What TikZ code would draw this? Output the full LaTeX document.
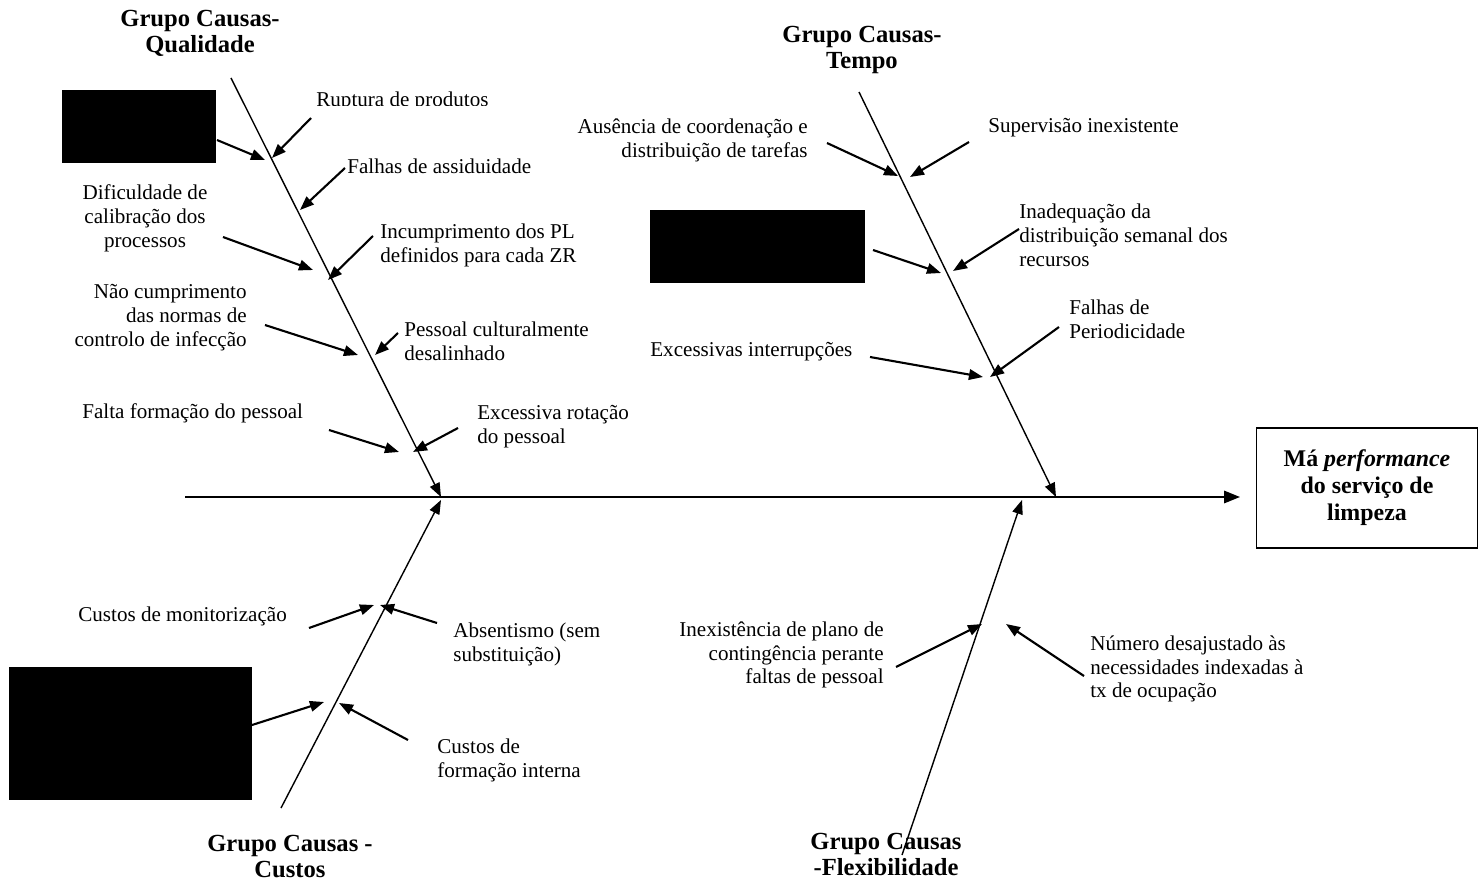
\documentclass[tikz,border=0pt]{standalone}
\usepackage{fontspec}
\setmainfont{Liberation Serif}
\usetikzlibrary{arrows.meta}

\begin{document}
\begin{tikzpicture}[x=0.02cm, y=-0.02cm,
        bone/.style={line width=0.8pt, -{Triangle[length=8pt,width=6pt]}},
        cause/.style={line width=1.2pt, -{Triangle[length=8pt,width=6pt]}},
        lbl/.style={inner sep=0pt, font=\fontsize{12}{13.6}\selectfont},
        grp/.style={inner sep=0pt, align=center, font=\fontsize{14}{14.8}\selectfont\bfseries},
        blk/.style={fill=black, draw=none, inner sep=0pt, anchor=north west}
                            ]
        \useasboundingbox (0,0) rectangle (1480,885);
        % effect and spine
        \node[draw, line width=0.7pt, minimum width=4.42cm, minimum height=2.4cm, align=center,
              font=\fontsize{13.6}{15.3}\selectfont\bfseries] (eff) at (1367,488)
              {M\'a \textit{performance}\\do servi\c{c}o de\\limpeza};
        \coordinate (tail) at (185,497);
        \coordinate (head) at (1240,497);
        \draw[line width=1.1pt, -{Triangle[length=9pt,width=7pt]}] (tail) -- (head);
        % bones
        \coordinate (qa) at (231,78);   \coordinate (qb) at (441,497);
        \coordinate (ta) at (859,92);   \coordinate (tb) at (1056,497);
        \coordinate (ca) at (281,808);  \coordinate (cb) at (441,500);
        \coordinate (fa) at (902,855);  \coordinate (fb) at (1022,500);
        \draw[bone] (qa) -- (qb);
        \draw[bone] (ta) -- (tb);
        \draw[bone] (ca) -- (cb);
        \draw[bone] (fa) -- (fb);
        % group titles
        \node[grp] (tq) at (200,33) {Grupo Causas-\\Qualidade};
        \node[grp] (tt) at (862,50) {Grupo Causas-\\Tempo};
        \node[grp] (tc) at (290,856) {Grupo Causas -\\Custos};
        \node[grp] (tf) at (886,854) {Grupo Causas\\-Flexibilidade};
        % hidden boxes
        \node[blk, minimum width=3.08cm, minimum height=1.46cm] (hid1) at (62,90) {};
        \node[blk, minimum width=4.3cm, minimum height=1.46cm] (hid2) at (650,210) {};
        \node[blk, minimum width=4.86cm, minimum height=2.66cm] (hid3) at (9,667) {};
        % causes - qualidade
        \node[lbl, anchor=west] (rup) at (316,101) {Ruptura de produtos};
        \fill[white] (312,106.5) rectangle (500,118);
        \node[lbl, anchor=west] (fas) at (347,166) {Falhas de assiduidade};
        \node[lbl, anchor=center, align=center] (dif) at (145,218) {Dificuldade de\\calibra\c{c}\~ao dos\\processos};
        \node[lbl, anchor=west, align=left] (inc) at (380,245) {Incumprimento dos PL\\definidos para cada ZR};
        \node[lbl, anchor=east, align=right] (nao) at (247,318) {N\~ao cumprimento\\das normas de\\controlo de infec\c{c}\~ao};
        \node[lbl, anchor=west, align=left] (pes) at (404,341) {Pessoal culturalmente\\desalinhado};
        \node[lbl, anchor=west] (fal) at (82,413) {Falta forma\c{c}\~ao do pessoal};
        \node[lbl, anchor=west, align=left] (exr) at (477,427) {Excessiva rota\c{c}\~ao\\do pessoal};
        % causes - tempo
        \node[lbl, anchor=east, align=right] (aus) at (808,140) {Aus\^encia de coordena\c{c}\~ao e\\distribui\c{c}\~ao de tarefas};
        \node[lbl, anchor=west] (sup) at (988,128) {Supervis\~ao inexistente};
        \node[lbl, anchor=west, align=left] (ina) at (1019,235) {Inadequa\c{c}\~ao da\\distribui\c{c}\~ao semanal dos\\recursos};
        \node[lbl, anchor=west] (exi) at (650,352) {Excessivas interrup\c{c}\~oes};
        \node[lbl, anchor=west, align=left] (fap) at (1069,319) {Falhas de\\Periodicidade};
        % causes - custos
        \node[lbl, anchor=west] (cmo) at (78,616) {Custos de monitoriza\c{c}\~ao};
        \node[lbl, anchor=west, align=left] (abs) at (453,644) {Absentismo (sem\\substitui\c{c}\~ao)};
        \node[lbl, anchor=west, align=left] (cfi) at (437,760) {Custos de\\forma\c{c}\~ao interna};
        % causes - flexibilidade
        \node[lbl, anchor=east, align=right] (ine) at (884,655) {Inexist\^encia de plano de\\conting\^encia perante\\faltas de pessoal};
        \node[lbl, anchor=west, align=left] (num) at (1090,669) {N\'umero desajustado \`as\\necessidades indexadas \`a\\tx de ocupa\c{c}\~ao};
        % arrow ends
        \coordinate (q1) at (217,140);  \coordinate (q1t) at (265,160);
        \coordinate (q2) at (311,118);  \coordinate (q2t) at (272,158);
        \coordinate (q3) at (345,168);  \coordinate (q3t) at (300,210);
        \coordinate (q4) at (223,237);  \coordinate (q4t) at (313,270);
        \coordinate (q5) at (373,236);  \coordinate (q5t) at (328,280);
        \coordinate (q6) at (265,325);  \coordinate (q6t) at (358,355);
        \coordinate (q7) at (398,333);  \coordinate (q7t) at (375,355);
        \coordinate (q8) at (329,430);  \coordinate (q8t) at (399,452);
        \coordinate (q9) at (458,428);  \coordinate (q9t) at (413,452);
        \coordinate (t1) at (827,143);  \coordinate (t1t) at (898,176);
        \coordinate (t2) at (969,142);  \coordinate (t2t) at (910,177);
        \coordinate (t3) at (873,250);  \coordinate (t3t) at (941,273);
        \coordinate (t4) at (1019,229); \coordinate (t4t) at (953,271);
        \coordinate (t5) at (870,357);  \coordinate (t5t) at (983,377);
        \coordinate (t6) at (1059,327); \coordinate (t6t) at (990,377);
        \coordinate (c1) at (309,628);  \coordinate (c1t) at (374,605);
        \coordinate (c2) at (437,623);  \coordinate (c2t) at (380,605);
        \coordinate (c3) at (252,725);  \coordinate (c3t) at (324,702);
        \coordinate (c4) at (408,740);  \coordinate (c4t) at (339,703);
        \coordinate (f1) at (896,667);  \coordinate (f1t) at (982,624);
        \coordinate (f2) at (1084,676); \coordinate (f2t) at (1006,624);
        % arrows
        \draw[cause] (q1) -- (q1t);
        \draw[cause] (q2) -- (q2t);
        \draw[cause] (q3) -- (q3t);
        \draw[cause] (q4) -- (q4t);
        \draw[cause] (q5) -- (q5t);
        \draw[cause] (q6) -- (q6t);
        \draw[cause] (q7) -- (q7t);
        \draw[cause] (q8) -- (q8t);
        \draw[cause] (q9) -- (q9t);
        \draw[cause] (t1) -- (t1t);
        \draw[cause] (t2) -- (t2t);
        \draw[cause] (t3) -- (t3t);
        \draw[cause] (t4) -- (t4t);
        \draw[cause] (t5) -- (t5t);
        \draw[cause] (t6) -- (t6t);
        \draw[cause] (c1) -- (c1t);
        \draw[cause] (c2) -- (c2t);
        \draw[cause] (c3) -- (c3t);
        \draw[cause] (c4) -- (c4t);
        \draw[cause] (f1) -- (f1t);
        \draw[cause] (f2) -- (f2t);
\end{tikzpicture}
\end{document}
